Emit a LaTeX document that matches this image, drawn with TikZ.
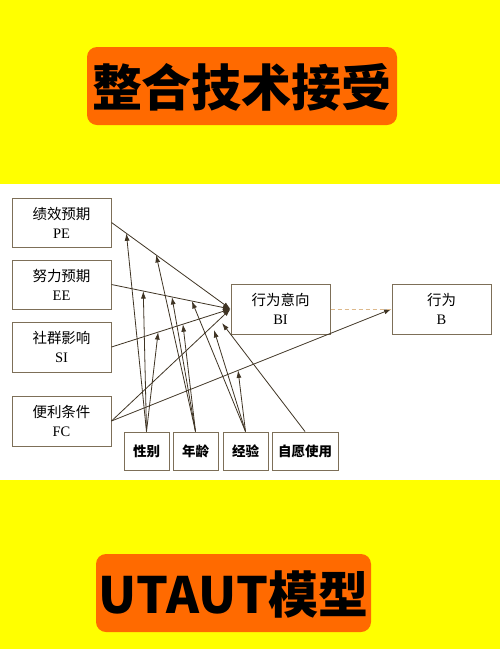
\documentclass[tikz,border=0pt]{standalone}
\usepackage{fontspec}
\setmainfont{Liberation Serif}
\newfontfamily\cjk{Noto Sans CJK SC}
\usetikzlibrary{arrows.meta}
\definecolor{bgyellow}{HTML}{FFFF00}
\definecolor{tileorange}{HTML}{FF6A00}
\definecolor{edgebrown}{HTML}{3F3424}
\definecolor{boxbrown}{HTML}{7D6F58}
\definecolor{dashtan}{HTML}{DDB98C}
\tikzset{
  box/.style={draw=boxbrown, line width=1pt, fill=white, inner sep=0pt,
    minimum width=99pt, minimum height=49pt, align=center,
    font=\fontsize{14.5}{19}\selectfont},
  modbox/.style={draw=boxbrown, line width=1pt, fill=white, inner sep=0pt,
    minimum width=45pt, minimum height=38pt,
    font=\cjk\bfseries\fontsize{13.5}{15}\selectfont},
  link/.style={draw=edgebrown, line width=0.8pt, -{Latex[length=7.5pt,width=5pt]}},
  titlebox/.style={fill=tileorange, rounded corners=10pt, inner sep=0pt},
  titletext/.style={font=\cjk\bfseries\fontsize{50}{50}\selectfont, text=black}
}
\begin{document}
\begin{tikzpicture}[x=1pt,y=-1pt]
\useasboundingbox (0,0) rectangle (500,649);
\fill[bgyellow] (0,0) rectangle (500,649);
\fill[white] (0,184) rectangle (500,480);
% titles
\node[titlebox, minimum width=310pt, minimum height=78pt] (t1) at (242,86) {};
\node[titletext] (t1t) at (242,87) {整合技术接受};
\node[titlebox, minimum width=275pt, minimum height=78pt] (t2) at (233.5,593) {};
\node[titletext] (t2t) at (233.5,594) {UTAUT模型};
% boxes
\node[box] (PE) at (61.5,222.5) {{\cjk 绩效预期}\\PE};
\node[box] (EE) at (61.5,284.5) {{\cjk 努力预期}\\EE};
\node[box, minimum height=50pt] (SI) at (61.5,347) {{\cjk 社群影响}\\SI};
\node[box, minimum height=50pt] (FC) at (61.5,421) {{\cjk 便利条件}\\FC};
\node[box, minimum height=50pt] (BI) at (280.5,309) {{\cjk 行为意向}\\BI};
\node[box, minimum height=50pt] (B) at (441.5,309) {{\cjk 行为}\\B};
\node[modbox] (G) at (146.5,451) {性别};
\node[modbox] (A) at (195.5,451) {年龄};
\node[modbox] (X) at (245.5,451) {经验};
\node[modbox, minimum width=66pt] (V) at (305,451) {自愿使用};
% main paths with anchor coordinates
\path[link] (PE.east) -- coordinate[pos=0.125] (pe1) coordinate[pos=0.375] (pe2) (BI.west);
\path[link] (EE.east) -- coordinate[pos=0.267] (ee1) coordinate[pos=0.508] (ee2) coordinate[pos=0.675] (ee3) (BI.west);
\path[link] (SI.east) -- coordinate[pos=0.392] (si1) coordinate[pos=0.6] (si2) (BI.west);
\path[link] (FC.east) -- (BI.west);
\path[link] (FC.east) -- coordinate[pos=0.452] (fb1) (B.west);
\draw[dashtan, line width=0.8pt, dash pattern=on 4pt off 3pt] (BI.east) -- (B.west);
\coordinate (bi1) at (214,330);
\coordinate (bi2) at (222,323);
% moderators
\draw[link] (G.north) -- (pe1);
\draw[link] (G.north) -- (ee1);
\draw[link] (G.north) -- (si1);
\draw[link] (A.north) -- (pe2);
\draw[link] (A.north) -- (ee2);
\draw[link] (A.north) -- (si2);
\draw[link] (X.north) -- (ee3);
\draw[link] (X.north) -- (bi1);
\draw[link] (X.north) -- (fb1);
\draw[link] (V.north) -- (bi2);
\end{tikzpicture}
\end{document}
